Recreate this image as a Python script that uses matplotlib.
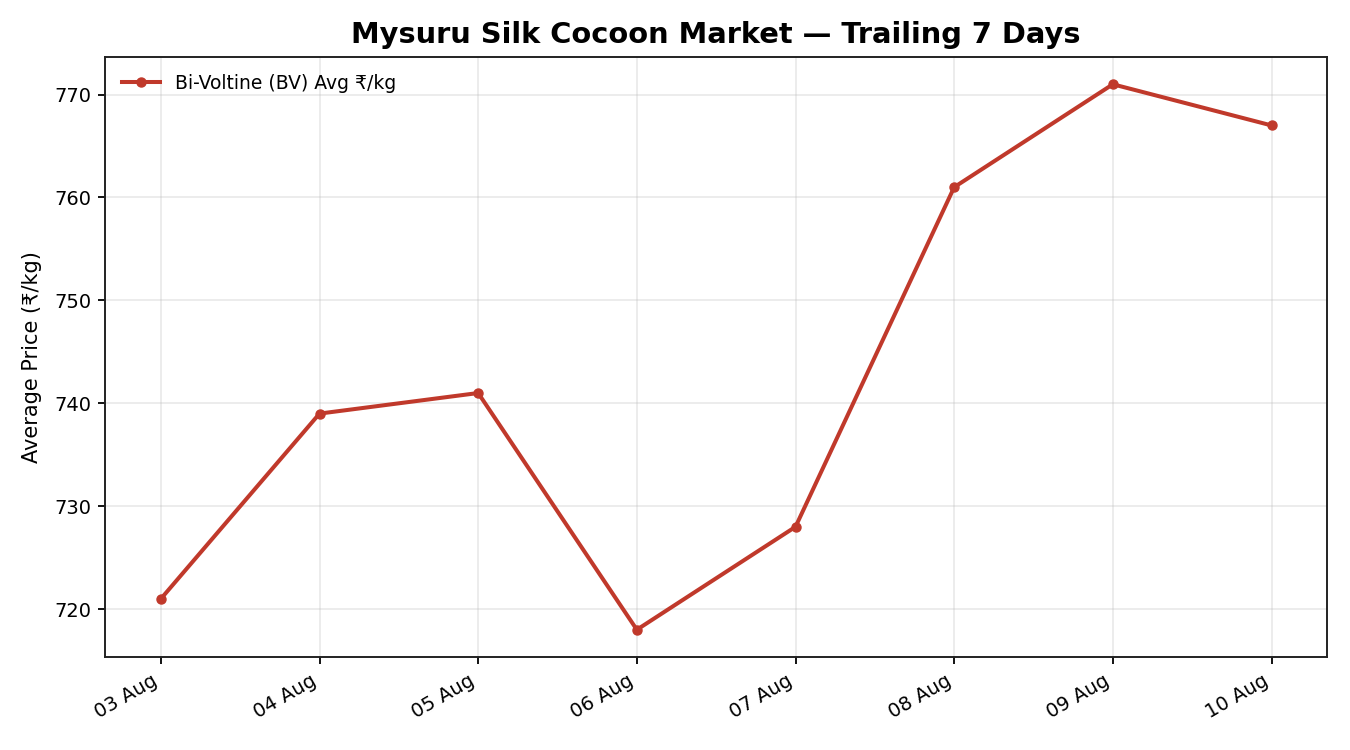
import matplotlib.pyplot as plt
import matplotlib.dates as mdates
import pandas as pd

dates = pd.date_range("2024-08-03", "2024-08-10", freq="D")
bv_price = [721, 739, 741, 718, 728, 761, 771, 767]

fig, ax = plt.subplots(figsize=(13.5, 7.5), dpi=100)
ax.plot(dates, bv_price, color="#c0392b", linewidth=2.9, marker="o", markersize=6.5,
        label="Bi-Voltine (BV) Avg ₹/kg")

ax.set_title("Mysuru Silk Cocoon Market — Trailing 7 Days", fontsize=20.8, fontweight="bold", pad=10)
ax.set_ylabel("Average Price (₹/kg)", fontsize=15, labelpad=9)
ax.xaxis.set_major_locator(mdates.DayLocator())
ax.xaxis.set_major_formatter(mdates.DateFormatter("%d %b"))
ax.tick_params(labelsize=14, length=5, width=1.3, pad=5)
ax.grid(True, alpha=0.3, linewidth=1.1)
for s in ax.spines.values():
    s.set_color("#222222")
    s.set_linewidth(1.4)
ax.legend(loc="upper left", frameon=False, fontsize=13.5)
fig.autofmt_xdate(rotation=30, ha="right")
fig.subplots_adjust(left=0.078, right=0.983, top=0.924, bottom=0.124)
fig.savefig("out.png")
